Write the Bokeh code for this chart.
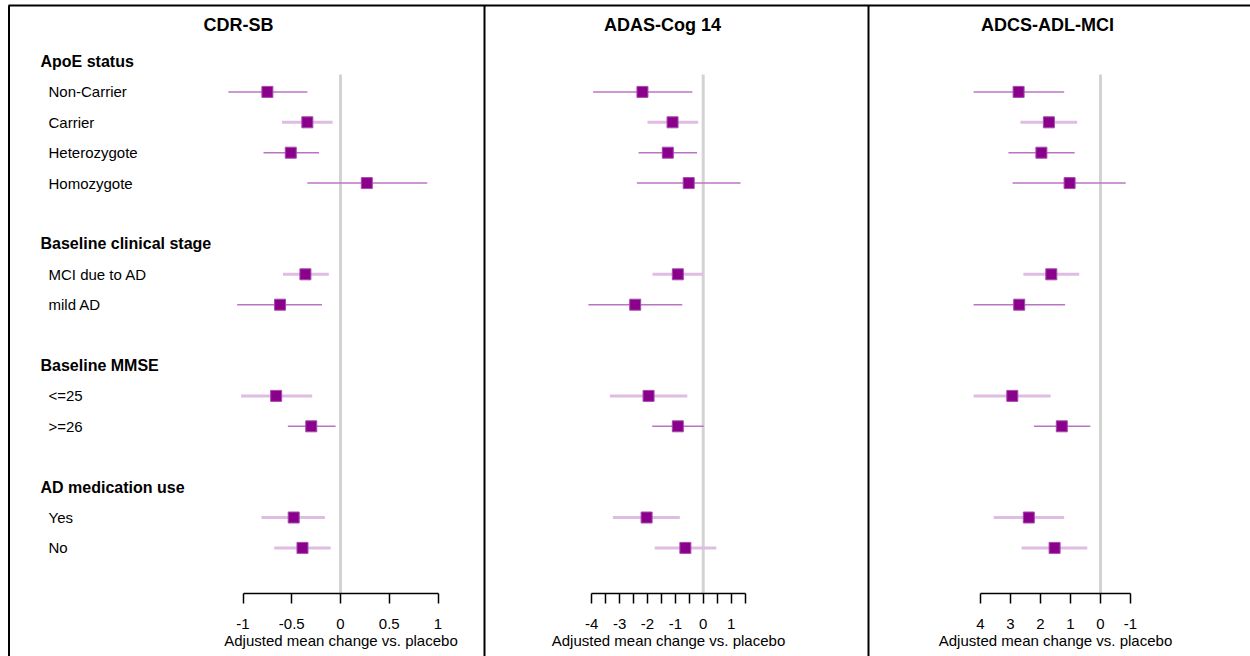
from bokeh.plotting import figure
from bokeh.models import Range1d, LinearAxis, FixedTicker, ColumnDataSource
from bokeh.core.properties import value
from bokeh.embed import file_html
from bokeh.resources import INLINE

# ---------------- data ----------------
groups = ["ApoE status", "Baseline clinical stage", "Baseline MMSE", "AD medication use"]
subgroups = [
    ["Non-Carrier", "Carrier", "Heterozygote", "Homozygote"],
    ["MCI due to AD", "mild AD"],
    ["<=25", ">=26"],
    ["Yes", "No"],
]

panel_titles = ["CDR-SB", "ADAS-Cog 14", "ADCS-ADL-MCI"]

cdr_est = [-0.75, -0.34, -0.51, 0.27, -0.36, -0.62, -0.66, -0.30, -0.48, -0.39]
cdr_lo = [-1.15, -0.60, -0.79, -0.34, -0.59, -1.06, -1.02, -0.54, -0.81, -0.68]
cdr_hi = [-0.34, -0.08, -0.22, 0.89, -0.12, -0.19, -0.29, -0.05, -0.16, -0.10]

adas_est = [-2.18, -1.10, -1.27, -0.52, -0.91, -2.44, -1.96, -0.91, -2.03, -0.64]
adas_lo = [-3.95, -2.00, -2.32, -2.38, -1.82, -4.12, -3.35, -1.83, -3.24, -1.74]
adas_hi = [-0.39, -0.18, -0.22, 1.34, -0.01, -0.75, -0.57, 0.02, -0.84, 0.47]

adcs_est = [2.73, 1.72, 1.97, 1.03, 1.64, 2.71, 2.94, 1.29, 2.39, 1.53]
adcs_lo = [4.23, 2.67, 3.07, 2.93, 2.57, 4.23, 4.23, 2.22, 3.56, 2.63]
adcs_hi = [1.21, 0.78, 0.86, -0.84, 0.71, 1.18, 1.66, 0.34, 1.21, 0.44]

panel_ticks = [
    [-1, -0.5, 0, 0.5, 1],
    [-4, -3.5, -3, -2.5, -2, -1.5, -1, -0.5, 0, 0.5, 1, 1.5],
    [4, 3, 2, 1, 0, -1],
]
panel_tick_labels = [
    ["-1", "-0.5", "0", "0.5", "1"],
    ["-4", "", "-3", "", "-2", "", "-1", "", "0", "", "1", ""],
    ["4", "3", "2", "1", "0", "-1"],
]
axis_title = "Adjusted mean change vs. placebo"

# ---------------- styles / layout ----------------
light_ci = [False, True, False, False, True, False, True, False, True, True]
CI_DARK = "#bb74c5"
CI_LIGHT = "#dfbde3"
MARK = "#8b008b"
FONT = "Liberation Sans"

W, H = 1250, 656
ROW0_PX = 61.0     # pixel y of first header row
ROW_STEP = 30.4
AXIS_ROW = 17.5
REF_TOP_ROW = 0.43
y_top = -ROW0_PX / ROW_STEP
y_bot = (H - ROW0_PX) / ROW_STEP
TOP_LINE_ROW = (5 - ROW0_PX) / ROW_STEP
TITLE_ROW = (24 - ROW0_PX) / ROW_STEP

panel_zero_px = [340.0, 702.7, 1100.0]
panel_ppu = [97.5, 27.87, -30.0]
panel_title_px = [238, 662, 1047]
border_px = [8.5, 484, 868]

# row positions
header_rows, item_rows, item_labels = [], [], []
r = 0
for g, subs in zip(groups, subgroups):
    header_rows.append(r)
    r += 1
    for s in subs:
        item_rows.append(r)
        item_labels.append(s)
        r += 1
    r += 1

p = figure(width=W, height=H, output_backend="svg", toolbar_location=None,
           x_range=Range1d(0, W), y_range=Range1d(y_bot, y_top),
           x_axis_location=None, y_axis_location=None,
           min_border=0, outline_line_color=None)
p.grid.visible = False
p.background_fill_color = "white"
p.border_fill_color = "white"

# borders
p.segment(x0=border_px, x1=border_px, y0=[TOP_LINE_ROW] * 3, y1=[y_bot] * 3,
          line_color="black", line_width=2)
p.segment(x0=[8], x1=[W], y0=[TOP_LINE_ROW], y1=[TOP_LINE_ROW],
          line_color="black", line_width=2)

# row labels
p.text(x=[40] * len(groups), y=header_rows, text=groups, text_font=value(FONT),
       text_font_size="16px", text_font_style="bold", text_baseline="middle",
       text_color="black")
p.text(x=[48] * len(item_labels), y=item_rows, text=item_labels, text_font=value(FONT),
       text_font_size="15px", text_baseline="middle", text_color="black")

# titles
p.text(x=panel_title_px, y=[TITLE_ROW] * 3, text=panel_titles,
       text_font=value(FONT), text_font_size="18px", text_font_style="bold",
       text_align="center", text_baseline="middle", text_color="black")

ests = [cdr_est, adas_est, adcs_est]
los = [cdr_lo, adas_lo, adcs_lo]
his = [cdr_hi, adas_hi, adcs_hi]

for i in range(3):
    name = f"p{i}"
    start = (0 - panel_zero_px[i]) / panel_ppu[i]
    end = (W - panel_zero_px[i]) / panel_ppu[i]
    p.extra_x_ranges[name] = Range1d(start, end)

    # reference line
    p.segment(x0=[0], x1=[0], y0=[REF_TOP_ROW], y1=[AXIS_ROW], x_range_name=name,
              line_color="#d3d3d3", line_width=3)

    src = ColumnDataSource(dict(
        y=item_rows, est=ests[i], lo=los[i], hi=his[i],
        color=[CI_LIGHT if l else CI_DARK for l in light_ci],
        width=[3 if l else 1.5 for l in light_ci],
    ))
    p.segment(x0="lo", x1="hi", y0="y", y1="y", source=src, x_range_name=name,
              line_color="color", line_width="width")
    p.scatter(x="est", y="y", source=src, x_range_name=name, marker="square",
              size=11, fill_color=MARK, line_color="#a64aae", line_width=1)

    ticks = panel_ticks[i]
    ax = LinearAxis(x_range_name=name, fixed_location=AXIS_ROW,
                    ticker=FixedTicker(ticks=ticks, minor_ticks=[]),
                    bounds=(min(ticks), max(ticks)),
                    axis_label=axis_title,
                    major_label_overrides={t: l for t, l in zip(ticks, panel_tick_labels[i])})
    ax.major_tick_in = 0
    ax.major_tick_out = 10
    ax.minor_tick_out = 0
    ax.minor_tick_in = 0
    ax.axis_line_width = 1.5
    ax.major_tick_line_width = 1.5
    ax.axis_line_color = "black"
    ax.major_tick_line_color = "black"
    ax.major_label_text_font = FONT
    ax.major_label_text_font_size = "15px"
    ax.major_label_text_color = "black"
    ax.major_label_standoff = 15
    ax.axis_label_text_font = FONT
    ax.axis_label_text_font_size = "15px"
    ax.axis_label_text_font_style = "normal"
    ax.axis_label_text_color = "black"
    ax.axis_label_standoff = 0
    p.add_layout(ax, "below")

open("out.html", "w").write(file_html(p, INLINE))
